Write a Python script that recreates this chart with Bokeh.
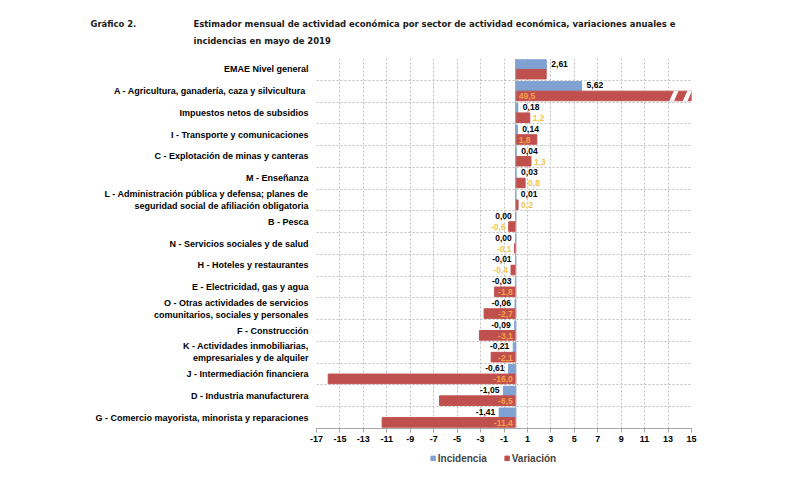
from bokeh.plotting import figure
from bokeh.layouts import column
from bokeh.models import (Range1d, FixedTicker, Span, Label, Legend, LegendItem,
                          ColumnDataSource)
from bokeh.core.properties import value
from bokeh.embed import file_html
from bokeh.resources import INLINE

categories = [
    "EMAE Nivel general",
    "A -  Agricultura, ganadería, caza y silvicultura",
    "Impuestos netos de subsidios",
    "I - Transporte y comunicaciones",
    "C - Explotación de minas y canteras",
    "M - Enseñanza",
    "L - Administración pública y defensa; planes de\nseguridad social de afiliación obligatoria",
    "B - Pesca",
    "N - Servicios sociales y de salud",
    "H - Hoteles y restaurantes",
    "E - Electricidad, gas y agua",
    "O - Otras actividades de servicios\ncomunitarios, sociales y personales",
    "F - Construcción",
    "K - Actividades inmobiliarias,\nempresariales y de alquiler",
    "J - Intermediación financiera",
    "D - Industria manufacturera",
    "G - Comercio mayorista, minorista y reparaciones",
]
incidencia = [2.61, 5.62, 0.18, 0.14, 0.04, 0.03, 0.01, 0.00, 0.00, -0.01,
              -0.03, -0.06, -0.09, -0.21, -0.61, -1.05, -1.41]
variacion = [2.6, 49.5, 1.2, 1.8, 1.3, 0.8, 0.2, -0.6, -0.1, -0.4,
             -1.8, -2.7, -3.1, -2.1, -16.0, -6.5, -11.4]
show_var_label = [False] + [True] * 16
x_ticks = list(range(-17, 16, 2))
title_num = "Gráfico 2."
title_lines = ["Estimador mensual de actividad económica por sector de actividad económica, variaciones anuales e",
               "incidencias en mayo de 2019"]
series_names = ["Incidencia", "Variación"]

X_MIN, X_MAX = -17, 15
BLUE = "#7FA2D2"
RED = "#C0504D"
ORANGE = "#F7A046"
YELLOW = "#F2C650"
FONT = "Liberation Sans"
NARROW = "DejaVu Sans Condensed"

n = len(categories)
ys = [n - 1 - i for i in range(n)]

W = 778
TOP = 58
FL, FR = 316, 691
FB = 428
H = 452 - TOP

# ---------- title strip ----------
p0 = figure(width=W, height=TOP, output_backend="svg", toolbar_location=None,
            x_axis_type=None, y_axis_type=None, x_range=Range1d(0, 1), y_range=Range1d(0, 1),
            min_border_left=0, min_border_right=0, min_border_top=0, min_border_bottom=0)
p0.outline_line_color = None
p0.xgrid.visible = False
p0.ygrid.visible = False


def title_label(x_canvas, y_canvas, text):
    return Label(x=x_canvas, y=TOP - y_canvas, x_units="screen", y_units="screen",
                 text=text, text_font=NARROW, text_font_style="bold",
                 text_font_size="9.4px", text_baseline="middle", text_color="#1a1a1a")


p0.add_layout(title_label(90, 23, title_num))
p0.add_layout(title_label(193, 23, title_lines[0]))
p0.add_layout(title_label(193, 40, title_lines[1]))

# ---------- main chart ----------
p = figure(width=W, height=H, output_backend="svg", toolbar_location=None,
           x_range=Range1d(X_MIN, X_MAX), y_range=Range1d(-0.5, n - 0.5),
           min_border_left=FL, min_border_right=W - FR, min_border_top=0,
           min_border_bottom=452 - FB)
p.outline_line_color = None
p.background_fill_color = "white"
p.border_fill_color = "white"

var_clip = [min(max(v, X_MIN), X_MAX) for v in variacion]
src = ColumnDataSource(dict(y=ys, yb=[y + 0.22 for y in ys], yr=[y - 0.22 for y in ys],
                            inc=incidencia, var=var_clip))
rb = p.hbar(y="yb", left=0, right="inc", height=0.44, color=BLUE, source=src)
rr = p.hbar(y="yr", left=0, right="var", height=0.44, color=RED, source=src)

for i, v in enumerate(variacion):
    if v > X_MAX:
        yc = ys[i] - 0.22
        for bx in (X_MAX - 1.55, X_MAX - 0.4):
            p.patch([bx - 0.35, bx + 0.05, bx + 0.45, bx + 0.05],
                    [yc - 0.24, yc + 0.24, yc + 0.24, yc - 0.24],
                    color="white", line_width=0)

p.add_layout(Span(location=0, dimension="height", line_color="#A6A6A6", line_width=1))

ix, ioff, ialign, itxt, iy = [], [], [], [], []
for i in range(n):
    pos = variacion[i] >= 0
    ix.append(incidencia[i])
    ioff.append(5 if pos else -4)
    ialign.append("left" if pos else "right")
    itxt.append(f"{incidencia[i]:.2f}".replace(".", ","))
    iy.append(ys[i] + 0.27)
p.text(x=ix, y=iy, text=itxt, x_offset=ioff, text_align=ialign, text_baseline="middle",
       text_font=value(FONT), text_font_style="bold", text_font_size="8.5px",
       text_color="black")

vx, voff, valign, vtxt, vy, vcol = [], [], [], [], [], []
for i in range(n):
    if not show_var_label[i]:
        continue
    v = variacion[i]
    inside = abs(v) >= 1.5
    pos = v >= 0
    vx.append(0 if inside else v)
    voff.append(3 if pos else -3)
    valign.append("left" if pos else "right")
    vtxt.append(f"{v:.1f}".replace(".", ","))
    vy.append(ys[i] - 0.24)
    vcol.append(ORANGE if inside else YELLOW)
p.text(x=vx, y=vy, text=vtxt, x_offset=voff, text_align=valign, text_baseline="middle",
       text_font=value(FONT), text_font_style="bold", text_font_size="8.5px",
       text_color=vcol)

p.xaxis.ticker = FixedTicker(ticks=x_ticks)
p.xaxis.major_label_overrides = {t: str(t) for t in x_ticks}
p.xaxis.axis_line_color = "#A6A6A6"
p.xaxis.major_tick_line_color = "#A6A6A6"
p.xaxis.major_tick_out = 4
p.xaxis.major_tick_in = 0
p.xaxis.minor_tick_line_color = None
p.xaxis.major_label_text_font = FONT
p.xaxis.major_label_text_font_style = "bold"
p.xaxis.major_label_text_font_size = "9px"
p.xaxis.major_label_text_color = "black"
p.xaxis.major_label_standoff = 3

p.yaxis.ticker = FixedTicker(ticks=ys)
p.yaxis.major_label_overrides = {y: categories[i] for i, y in enumerate(ys)}
p.yaxis.axis_line_color = None
p.yaxis.major_tick_line_color = None
p.yaxis.minor_tick_line_color = None
p.yaxis.major_label_text_font = FONT
p.yaxis.major_label_text_font_style = "bold"
p.yaxis.major_label_text_font_size = "9px"
p.yaxis.major_label_text_color = "black"
p.yaxis.major_label_standoff = 2

p.xgrid.ticker = FixedTicker(ticks=x_ticks)
p.xgrid.grid_line_color = "#BFBFBF"
p.xgrid.grid_line_dash = "2 2"
p.ygrid.ticker = FixedTicker(ticks=[y + 0.5 for y in ys])
p.ygrid.grid_line_color = "#BFBFBF"
p.ygrid.grid_line_dash = "2 2"

# ---------- legend strip ----------
p2 = figure(width=W, height=20, output_backend="svg", toolbar_location=None,
            x_axis_type=None, y_axis_type=None, x_range=Range1d(0, 1), y_range=Range1d(0, 1),
            min_border_left=2 * 493 - W, min_border_right=0, min_border_top=0,
            min_border_bottom=0)
p2.outline_line_color = None
p2.xgrid.visible = False
p2.ygrid.visible = False
lb = p2.hbar(y=[5], left=[5], right=[6], height=0.5, color=BLUE)
lr = p2.hbar(y=[5], left=[5], right=[6], height=0.5, color=RED)
legend = Legend(items=[LegendItem(label=series_names[0], renderers=[lb]),
                       LegendItem(label=series_names[1], renderers=[lr])],
                orientation="horizontal", location="top_center",
                label_text_font=FONT, label_text_font_style="bold",
                label_text_font_size="10px", glyph_width=6, glyph_height=6,
                spacing=17, border_line_color=None, background_fill_alpha=0,
                padding=0, margin=0, label_standoff=2, label_height=12)
p2.add_layout(legend)

layout = column(column(p0), p, column(p2), spacing=0)
open("out.html", "w").write(file_html(layout, INLINE))
